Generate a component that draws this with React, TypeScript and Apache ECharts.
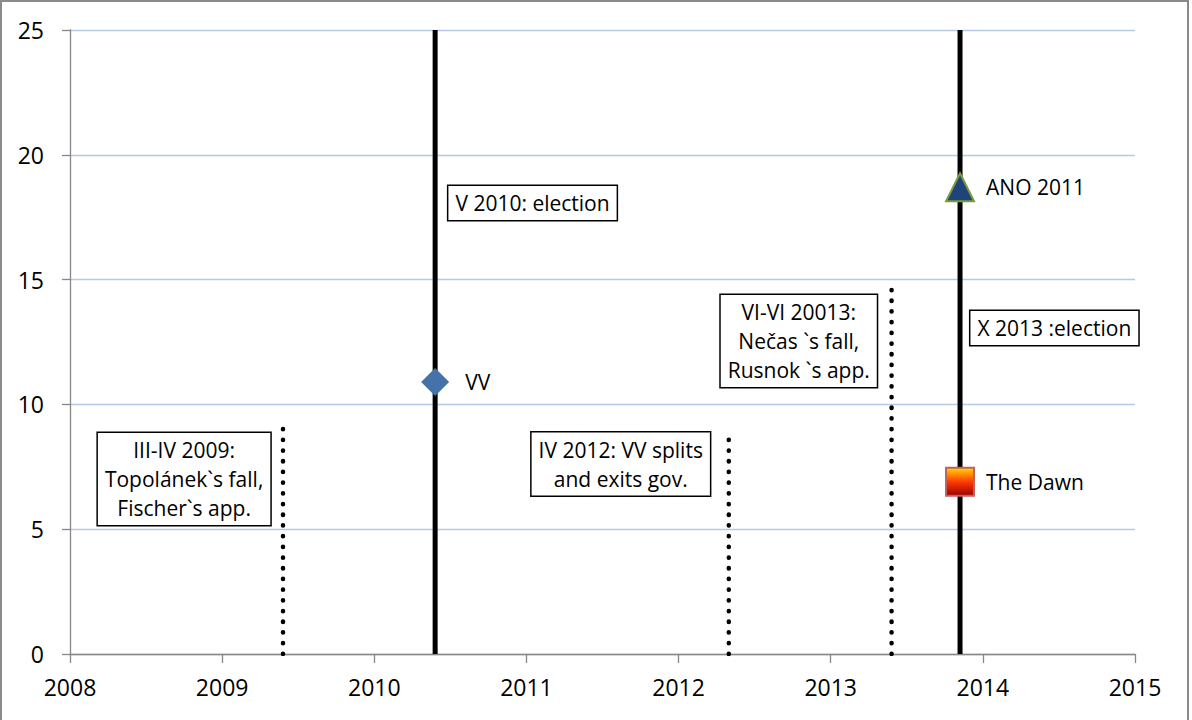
import React, { useEffect, useRef } from "react";
import * as echarts from "echarts";

// ---- data ----
const xTicks = [2008, 2009, 2010, 2011, 2012, 2013, 2014, 2015];
const yTicks = [0, 5, 10, 15, 20, 25];

const electionX = [2010.4, 2013.85];
const electionTop = [25, 25];

const crisisX = [2009.4, 2012.33, 2013.4];
const crisisTop = [9.2, 8.75, 14.85];

const parties = ["VV", "ANO 2011", "The Dawn"];
const partyX = [2010.4, 2013.85, 2013.85];
const partyY = [10.9, 18.7, 6.9];

const notes = [
  "V 2010: election",
  "III-IV 2009:\nTopolánek`s fall,\nFischer`s app.",
  "IV 2012: VV splits\nand exits gov.",
  "VI-VI 20013:\nNečas `s fall,\nRusnok `s app.",
  "X 2013 :election",
];
const noteX = [2011.04, 2008.75, 2011.62, 2012.79, 2014.47];
const noteY = [18.07, 7.01, 7.61, 12.54, 13.06];

const FONT = "'Open Sans', sans-serif";
const FS = 23;

export default function App() {
  const ref = useRef<HTMLDivElement>(null);

  useEffect(() => {
    if (!ref.current) return;
    const chart = echarts.init(ref.current, undefined, { renderer: "svg" });

    const series: any[] = [];

    electionX.forEach((x, i) => {
      series.push({
        type: "line",
        data: [
          [x, 0],
          [x, electionTop[i]],
        ],
        symbol: "none",
        lineStyle: { color: "#000", width: 5 },
        z: 3,
      });
    });

    crisisX.forEach((x, i) => {
      series.push({
        type: "line",
        data: [
          [x, 0],
          [x, crisisTop[i]],
        ],
        symbol: "none",
        lineStyle: { color: "#000", width: 4.5, type: [0.3, 10.4], cap: "round" },
        z: 3,
      });
    });

    const symbols = ["diamond", "triangle", "rect"];
    const styles: any[] = [
      { color: "#4672aa", opacity: 1 },
      { color: "#1f4479", borderColor: "#7d9a3c", borderWidth: 2, opacity: 1 },
      {
        color: new echarts.graphic.LinearGradient(0, 0, 0, 1, [
          { offset: 0, color: "#ffd800" },
          { offset: 0.5, color: "#ff3a00" },
          { offset: 1, color: "#9a0000" },
        ]),
        borderColor: "#c06060",
        borderWidth: 2,
        opacity: 1,
      },
    ];
    const distances = [16, 11, 11];
    parties.forEach((p, i) => {
      series.push({
        type: "scatter",
        name: p,
        data: [[partyX[i], partyY[i]]],
        symbol: symbols[i],
        symbolSize: 28,
        itemStyle: styles[i],
        label: {
          show: true,
          position: "right",
          distance: distances[i],
          formatter: p,
          color: "#000",
          fontFamily: FONT,
          fontSize: 21,
        },
        z: 5,
      });
    });

    series.push({
      type: "scatter",
      data: notes.map((t, i) => ({ value: [noteX[i], noteY[i]], name: t })),
      symbol: "circle",
      symbolSize: 1,
      itemStyle: { color: "rgba(0,0,0,0)", opacity: 1 },
      silent: true,
      label: {
        show: true,
        position: "inside",
        formatter: (p: any) => p.name,
        color: "#000",
        fontFamily: FONT,
        fontSize: 21,
        lineHeight: 29,
        align: "center",
        verticalAlign: "middle",
        backgroundColor: "#fff",
        borderColor: "#000",
        borderWidth: 1.5,
        padding: [3, 7, 2, 7],
      },
      z: 6,
    });

    chart.setOption({
      animation: false,
      backgroundColor: "#fff",
      grid: { left: 70, right: 57, top: 30, bottom: 66, containLabel: false },
      xAxis: {
        type: "value",
        min: xTicks[0],
        max: xTicks[xTicks.length - 1],
        interval: 1,
        axisLine: { show: true, onZero: false, lineStyle: { color: "#878787", width: 1.3 } },
        axisTick: { show: true, length: 9, lineStyle: { color: "#878787", width: 1.3 } },
        axisLabel: {
          color: "#000",
          fontFamily: FONT,
          fontSize: FS,
          margin: 21,
          formatter: (v: number) => String(v),
        },
        splitLine: { show: false },
      },
      yAxis: {
        type: "value",
        min: yTicks[0],
        max: yTicks[yTicks.length - 1],
        interval: 5,
        axisLine: { show: true, lineStyle: { color: "#878787", width: 1.3 } },
        axisTick: { show: true, length: 8, lineStyle: { color: "#878787", width: 1.3 } },
        axisLabel: { color: "#000", fontFamily: FONT, fontSize: FS, margin: 26 },
        splitLine: { show: true, lineStyle: { color: "#b7c9e8", width: 1.3 } },
      },
      graphic: [
        {
          type: "rect",
          shape: { x: 1, y: 1, width: 1187, height: 730 },
          style: { fill: "none", stroke: "#8a8a8a", lineWidth: 2 },
          silent: true,
          z: 10,
        },
      ],
      series,
    });

    return () => chart.dispose();
  }, []);

  return (
    <div
      ref={ref}
      style={{ position: "fixed", left: 0, top: 0, width: 1192, height: 720 }}
    />
  );
}
